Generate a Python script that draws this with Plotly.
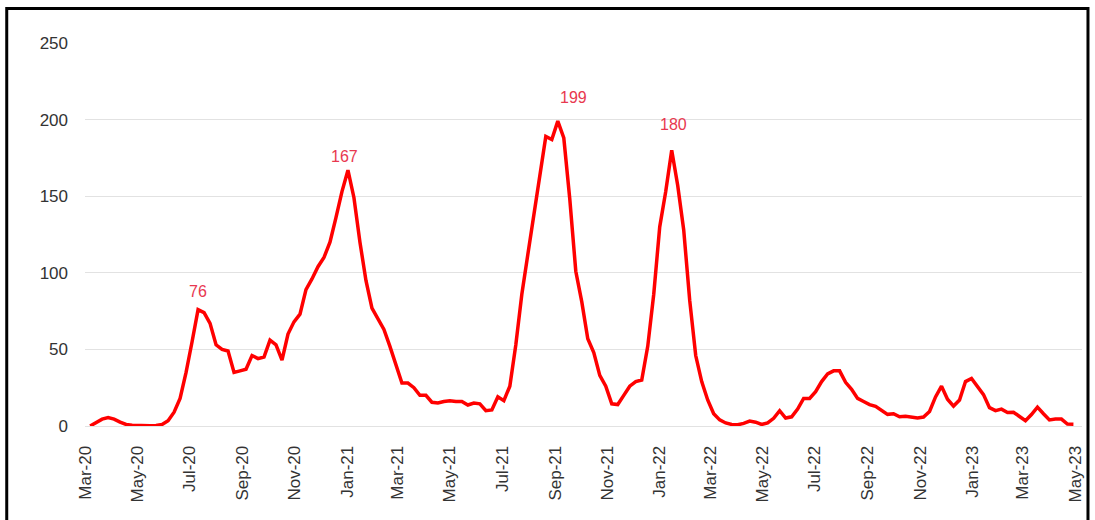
import datetime as dt
import plotly.graph_objects as go

# Weekly series, starting 7 Mar 2020
start_date = "2020-03-07"
weekly_values = [
    0, 2, 4.5, 5.5, 4.5, 2.5, 1, 0.5, 0.3, 0.2,
    0.2, 0.3, 1, 3.5, 9, 18, 35, 55, 76, 74,
    67, 53, 50, 49, 35, 36, 37, 46, 44, 45,
    56, 53, 43, 60, 68, 73, 89, 96, 104, 110,
    120, 136, 153, 167, 149, 120, 95, 77, 70, 63,
    52, 40, 28, 28, 25, 20, 20, 15.5, 15, 16,
    16.5, 16, 16, 13.7, 15, 14.5, 10, 10.5, 19, 16.5,
    26, 53, 86, 112, 138, 164, 189, 187, 199, 188,
    148, 101, 81, 57, 48, 33, 26, 14.5, 14, 20,
    26, 29, 30, 52, 86, 130, 153, 180, 157, 128,
    82, 46, 29, 17, 8, 4, 2, 1, 0.8, 1.7,
    3.2, 2.5, 1, 2, 5, 10, 5.2, 6, 11, 18,
    18, 22.4, 29, 34, 36, 36, 28.5, 24, 18, 16,
    14, 12.8, 10, 7.6, 8, 6, 6.3, 6, 5.3, 5.8,
    9.5, 19, 26, 17.5, 13, 17, 29, 31, 26, 20.5,
    12, 10, 11, 8.8, 9, 6.5, 3.4, 7.5, 12.3, 8,
    4, 4.5, 4.5, 1.3, 1.2,
]

# Peaks that carry a value label
peak_values = [76, 167, 199, 180]

tick_dates = [
    "2020-03-01", "2020-05-01", "2020-07-01", "2020-09-01", "2020-11-01",
    "2021-01-01", "2021-03-01", "2021-05-01", "2021-07-01", "2021-09-01",
    "2021-11-01", "2022-01-01", "2022-03-01", "2022-05-01", "2022-07-01",
    "2022-09-01", "2022-11-01", "2023-01-01", "2023-03-01", "2023-05-01",
]
tick_labels = [
    "Mar-20", "May-20", "Jul-20", "Sep-20", "Nov-20",
    "Jan-21", "Mar-21", "May-21", "Jul-21", "Sep-21",
    "Nov-21", "Jan-22", "Mar-22", "May-22", "Jul-22",
    "Sep-22", "Nov-22", "Jan-23", "Mar-23", "May-23",
]
y_ticks = [0, 50, 100, 150, 200, 250]

t0 = dt.date.fromisoformat(start_date)
dates = [t0 + dt.timedelta(days=7 * i) for i in range(len(weekly_values))]

LINE_RED = "#ff0000"
LABEL_RED = "#e8384f"
TEXT = "#333333"
GRID = "#e2e2e2"
FONT = "Liberation Sans, Arial, sans-serif"

fig = go.Figure()
fig.add_trace(go.Scatter(
    x=dates, y=weekly_values, mode="lines",
    line=dict(color=LINE_RED, width=3.5, shape="linear"),
    hoverinfo="x+y", showlegend=False,
))

# value labels above the labelled peaks
label_shift = {76: (0, 18), 167: (-3, 14), 199: (16, 24), 180: (2, 26)}
for pv in peak_values:
    idx = weekly_values.index(pv)
    dx, dy = label_shift[pv]
    fig.add_annotation(
        x=dates[idx], y=pv, text=str(pv), showarrow=False,
        xshift=dx, yshift=dy,
        font=dict(family=FONT, size=16, color=LABEL_RED),
    )

# frame around the whole chart
fig.add_shape(
    type="rect", xref="paper", yref="paper",
    x0=-0.0785, x1=1.006, y0=-0.3, y1=1.09,
    line=dict(color="#000000", width=3), fillcolor="rgba(0,0,0,0)", layer="above",
)

fig.update_layout(
    width=1095, height=520,
    margin=dict(l=85, r=10, t=43, b=94),
    paper_bgcolor="white", plot_bgcolor="white",
    font=dict(family=FONT, size=17, color=TEXT),
    xaxis=dict(
        type="date",
        range=["2020-03-01", "2023-05-09"],
        tickmode="array", tickvals=tick_dates, ticktext=tick_labels,
        tickangle=-90, showgrid=False,
        showline=True, linecolor=GRID, linewidth=1,
        ticks="", ticklabelstandoff=12,
        tickfont=dict(family=FONT, size=17, color=TEXT),
    ),
    yaxis=dict(
        range=[0, 250], tickvals=y_ticks,
        showgrid=True, gridcolor=GRID, gridwidth=1,
        zeroline=False, showline=False, ticks="",
        ticklabelstandoff=16,
        tickfont=dict(family=FONT, size=17, color=TEXT),
    ),
)

fig.write_html("out.html")
